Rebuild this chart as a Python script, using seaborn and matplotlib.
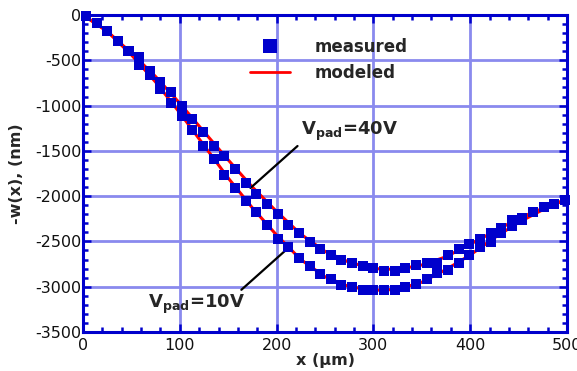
import numpy as np
import pandas as pd
import matplotlib
matplotlib.use("Agg")
import matplotlib.pyplot as plt
import seaborn as sns
from matplotlib.ticker import MultipleLocator
from matplotlib.lines import Line2D

# ---- data ----
x_meas = [3, 14, 25, 36, 47, 58, 69, 80, 91, 102, 113, 124, 135, 146, 157, 168,
          179, 190, 201, 212, 223, 234, 245, 256, 267, 278, 289, 300, 311, 322,
          333, 344, 355, 366, 377, 388, 399, 410, 421, 432, 443, 454, 465, 476,
          487, 498]
w_meas_40v = [-15, -85, -177, -284, -398, -467, -615, -737, -847, -1005, -1149,
              -1296, -1444, -1555, -1705, -1851, -1975, -2088, -2202, -2320,
              -2412, -2505, -2589, -2650, -2705, -2740, -2770, -2795, -2825,
              -2825, -2795, -2765, -2735, -2737, -2652, -2589, -2527, -2470,
              -2412, -2350, -2265, -2236, -2173, -2118, -2088, -2044]
w_meas_10v = [-15, -85, -177, -284, -398, -553, -663, -821, -969, -1113, -1267,
              -1444, -1591, -1768, -1906, -2058, -2173, -2320, -2475, -2560,
              -2682, -2774, -2865, -2917, -2978, -3005, -3031, -3031, -3031,
              -3031, -3002, -2972, -2917, -2854, -2818, -2737, -2652, -2560,
              -2505, -2412, -2328, -2265, -2173, -2118, -2088, -2044]

x_model = [0, 25, 50, 75, 100, 125, 150, 175, 200, 225, 250, 275, 300, 325,
           350, 375, 400, 425, 450, 475, 500]
w_model_40v = [0, -180, -420, -680, -975, -1290, -1600, -1900, -2170, -2420,
               -2610, -2730, -2800, -2810, -2760, -2670, -2530, -2390, -2245,
               -2135, -2035]
w_model_10v = [0, -180, -440, -740, -1080, -1440, -1800, -2130, -2430, -2700,
               -2890, -3000, -3040, -3030, -2950, -2810, -2650, -2460, -2290,
               -2150, -2030]

x_ticks = [0, 100, 200, 300, 400, 500]
y_ticks = [0, -500, -1000, -1500, -2000, -2500, -3000, -3500]

# ---- style ----
sns.set_style("ticks")
plt.rcParams['font.family'] = ['DejaVu Sans']
plt.rcParams['axes.unicode_minus'] = False

BLUE = '#0000cc'
GRID = '#8a8aee'
RED = '#ff0000'

fig = plt.figure(figsize=(5.77, 3.71), dpi=100)
ax = fig.add_axes([83 / 577, 1 - 332 / 371, (567 - 83) / 577, (332 - 15) / 371])

meas = pd.DataFrame({
    'x': x_meas + x_meas,
    'w': w_meas_40v + w_meas_10v,
    'series': ['40V'] * len(x_meas) + ['10V'] * len(x_meas),
})
model = pd.DataFrame({
    'x': x_model + x_model,
    'w': w_model_40v + w_model_10v,
    'series': ['40V'] * len(x_model) + ['10V'] * len(x_model),
})

sns.lineplot(data=model, x='x', y='w', hue='series', estimator=None, sort=False,
             palette={'40V': RED, '10V': RED}, linewidth=2.2, legend=False,
             ax=ax, zorder=3)
sns.scatterplot(data=meas, x='x', y='w', hue='series', marker='s', s=52,
                linewidth=0, palette={'40V': BLUE, '10V': BLUE}, legend=False,
                ax=ax, zorder=4, clip_on=False)

ax.set_xlim(0, 500)
ax.set_ylim(-3500, 0)
ax.set_xticks(x_ticks)
ax.set_yticks(y_ticks)
ax.xaxis.set_minor_locator(MultipleLocator(20))
ax.yaxis.set_minor_locator(MultipleLocator(100))

ax.grid(True, which='major', color=GRID, linewidth=2, zorder=0)
ax.set_axisbelow(True)

for sp in ax.spines.values():
    sp.set_visible(True)
    sp.set_color(BLUE)
    sp.set_linewidth(2.2)
    sp.set_zorder(5)

ax.tick_params(which='both', direction='in', top=True, right=True,
               color=BLUE, width=1.8)
ax.tick_params(which='major', length=6)
ax.tick_params(which='minor', length=3.5)
ax.tick_params(axis='x', which='major', labelsize=11.5, pad=4, labelcolor='#111111')
ax.tick_params(axis='y', which='major', labelsize=11.5, pad=1, labelcolor='#111111')

ax.set_xlabel('x (µm)', fontsize=11.5, fontweight='bold', labelpad=0)
ax.set_ylabel('-w(x), (nm)', fontsize=11.5, fontweight='bold', labelpad=8)

handles = [
    Line2D([], [], marker='s', color=BLUE, linestyle='none', markersize=9.5,
           markeredgewidth=0),
    Line2D([], [], color=RED, linewidth=2),
]
ax.legend(handles, ['measured', 'modeled'], loc='upper left',
          bbox_to_anchor=((250 - 83) / 484, (332 - 38) / 317),
          frameon=False, borderpad=0, borderaxespad=0, handlelength=2.4,
          handletextpad=1.5, labelspacing=0.45,
          prop={'weight': 'bold', 'size': 12})

ax.annotate(r'$\mathbf{V_{pad}}$=40V', xy=(173, -1910), xytext=(225, -1326),
            fontsize=13, fontweight='bold', ha='left', va='baseline',
            arrowprops=dict(arrowstyle='-', color='black', lw=1.6,
                            shrinkA=0, shrinkB=0, relpos=(0, 0)))
ax.annotate(r'$\mathbf{V_{pad}}$=10V', xy=(213, -2563), xytext=(67.5, -3238),
            fontsize=13, fontweight='bold', ha='left', va='baseline',
            arrowprops=dict(arrowstyle='-', color='black', lw=1.6,
                            shrinkA=0, shrinkB=0, relpos=(0.92, 1)))

fig.savefig('out.png', dpi=100)
